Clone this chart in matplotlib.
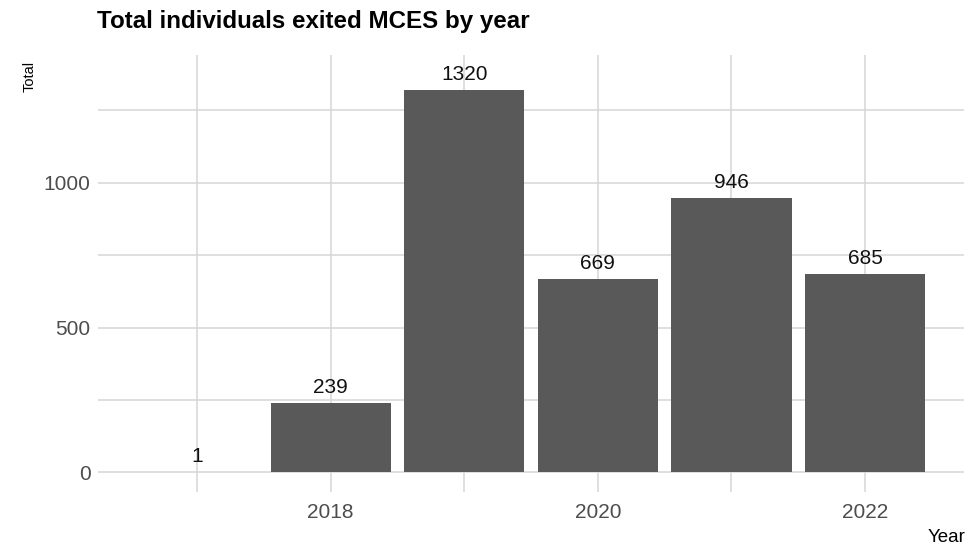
import matplotlib
matplotlib.use('Agg')
import matplotlib.pyplot as plt

plt.rcParams['font.family'] = ['Liberation Sans', 'DejaVu Sans']

years = [2017, 2018, 2019, 2020, 2021, 2022]
totals = [1, 239, 1320, 669, 946, 685]
x_major = [2018, 2020, 2022]
x_minor = [2017, 2019, 2021]
y_major = [0, 500, 1000]
y_minor = [250, 750, 1250]

label_nudge = 54
grid_col = '#d6d6d6'

fig = plt.figure(figsize=(9.67, 5.47), dpi=100)
ax = fig.add_axes([0.101, 0.1, 0.8964, 0.8002])

ax.bar(years, totals, width=0.9, color='#595959', zorder=2)
for x, v in zip(years, totals):
    ax.text(x, v + label_nudge, str(v), ha='center', va='center',
            fontsize=15, color='#111111', zorder=3)

# ggplot-style 5% expansion
lo, hi = 0, max(totals) + label_nudge
pad = 0.05 * (hi - lo)
ax.set_ylim(lo - pad, hi + pad)
xlo, xhi = min(years) - 0.45, max(years) + 0.45
xpad = 0.05 * (xhi - xlo)
ax.set_xlim(xlo - xpad, xhi + xpad)

ax.set_xticks(x_major)
ax.set_xticks(x_minor, minor=True)
ax.set_yticks(y_major)
ax.set_yticks(y_minor, minor=True)
ax.grid(True, which='both', color=grid_col, lw=1.1, zorder=0)
ax.set_axisbelow(True)
ax.tick_params(which='both', length=0, labelsize=15, labelcolor='#4d4d4d')
ax.tick_params(axis='x', pad=8)
ax.tick_params(axis='y', pad=5)
for s in ax.spines.values():
    s.set_visible(False)

fig.text(97 / 967, 1 - 28 / 547, 'Total individuals exited MCES by year',
         fontsize=17.4, fontweight='bold', ha='left', va='baseline')
fig.text(30 / 967, 1 - 61 / 547, 'Total', rotation=90, fontsize=10.5,
         ha='center', va='top')
fig.text(965 / 967, 1 - 537 / 547, 'Year', fontsize=13.5,
         ha='right', va='center')

fig.savefig('out.png', dpi=100)
